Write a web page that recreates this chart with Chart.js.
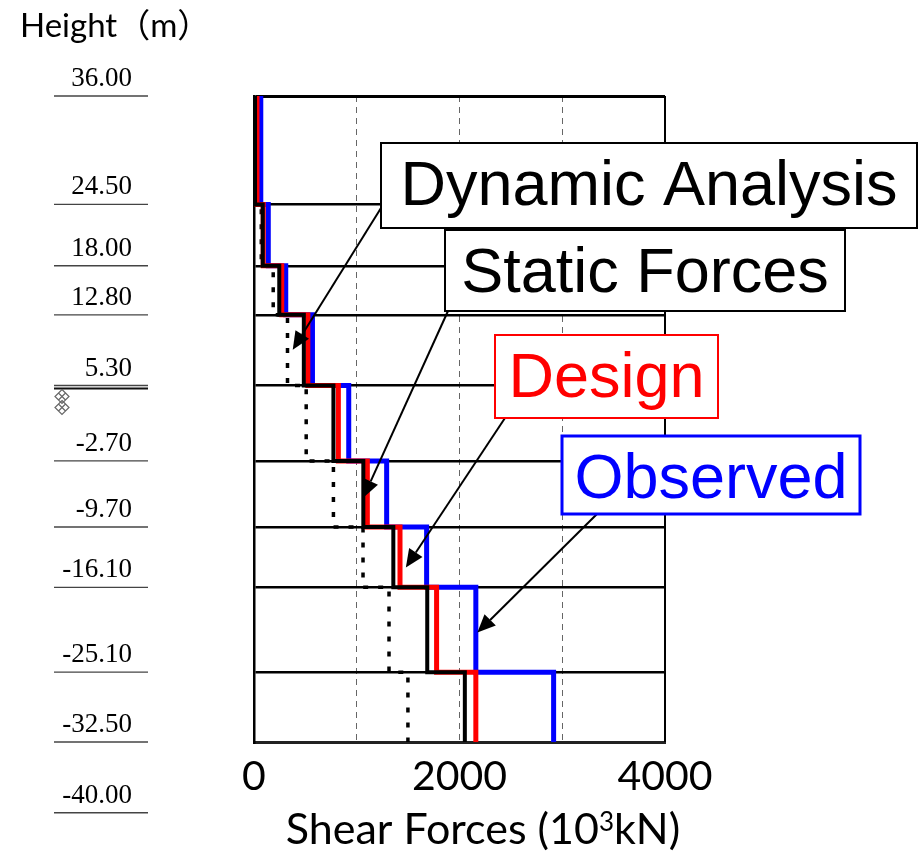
<!DOCTYPE html>
<html lang="en">
<head>
  <meta charset="UTF-8">
  <title>Shear Forces vs Height</title>
  <script src="https://cdn.jsdelivr.net/npm/chart.js"></script>
  <style>
    body { margin: 0; background: #fff; }
    #wrap { width: 920px; height: 854px; }
  </style>
</head>
<body>
  <div id="wrap"><canvas id="myChart" width="920" height="854"></canvas></div>

  <script>
    // floor levels (m) shown on the left, top to bottom
    const heightTicks = [36.00, 24.50, 18.00, 12.80, 5.30, -2.70, -9.70, -16.10, -25.10, -32.50, -40.00];
    const heightTickLabels = ['36.00', '24.50', '18.00', '12.80', '5.30', '-2.70', '-9.70', '-16.10', '-25.10', '-32.50', '-40.00'];
    // story boundaries drawn inside the plot
    const storyLevels = [36.00, 24.50, 18.00, 12.80, 5.30, -2.70, -9.70, -16.10, -25.10, -32.50];
    const groundLevel = 5.30;

    // shear force per story (10^3 kN), top story first
    const dynamicAnalysis = [5, 71, 187, 326, 508, 773, 1061, 1314, 1498];
    const staticForces   = [10, 85, 246, 485, 773, 1064, 1356, 1686, 2052];
    const design         = [29, 90, 270, 524, 821, 1103, 1421, 1777, 2159];
    const observed       = [66, 139, 309, 569, 922, 1291, 1680, 2159, 2916];

    const xTicks = [0, 1000, 2000, 3000, 4000];
    const xTickLabels = ['0', '', '2000', '', '4000'];

    // turn per-story values into a step outline
    function stepPoints(values) {
      const pts = [];
      values.forEach((v, i) => {
        pts.push({ x: v, y: storyLevels[i] });
        pts.push({ x: v, y: storyLevels[i + 1] });
      });
      return pts;
    }

    // callout boxes: box in page pixels, arrow tip in data units
    const callouts = [
      { text: 'Dynamic Analysis', color: '#000', border: 2, box: [381, 143, 536, 85], from: [381, 208], tip: { x: 377, y: 9.1 } },
      { text: 'Static Forces', color: '#000', border: 2, box: [445, 230, 400, 81], from: [448, 311], tip: { x: 1063, y: -6.6 } },
      { text: 'Design', color: '#ff0000', border: 2, box: [495, 335, 223, 83], from: [505, 418], tip: { x: 1478, y: -14.0 } },
      { text: 'Observed', color: '#0000ff', border: 3, box: [562, 436, 298, 78], from: [597, 514], tip: { x: 2174, y: -20.9 } }
    ];

    function arrow(ctx, x1, y1, x2, y2) {
      const ang = Math.atan2(y2 - y1, x2 - x1);
      const len = 18, hw = 8;
      const bx = x2 - len * Math.cos(ang), by = y2 - len * Math.sin(ang);
      ctx.beginPath();
      ctx.moveTo(x1, y1);
      ctx.lineTo(bx, by);
      ctx.lineWidth = 2;
      ctx.strokeStyle = '#000';
      ctx.stroke();
      ctx.beginPath();
      ctx.moveTo(x2, y2);
      ctx.lineTo(bx + hw * Math.sin(ang), by - hw * Math.cos(ang));
      ctx.lineTo(bx - hw * Math.sin(ang), by + hw * Math.cos(ang));
      ctx.closePath();
      ctx.fillStyle = '#000';
      ctx.fill();
    }

    const decorations = {
      id: 'decorations',
      afterDraw(chart) {
        const ctx = chart.ctx;
        const ys = chart.scales.y, xs = chart.scales.x;
        const area = chart.chartArea;
        ctx.save();

        // right frame
        ctx.strokeStyle = '#000';
        ctx.lineWidth = 2;
        ctx.beginPath();
        ctx.moveTo(area.right, area.top);
        ctx.lineTo(area.right, area.bottom);
        ctx.stroke();

        // height labels on the left
        ctx.font = '27px "Liberation Serif", "Times New Roman", serif';
        ctx.textAlign = 'right';
        ctx.textBaseline = 'alphabetic';
        heightTicks.forEach((h, i) => {
          const py = ys.getPixelForValue(h);
          ctx.fillStyle = '#000';
          ctx.fillText(heightTickLabels[i], 132, py - 10);
          ctx.strokeStyle = '#444';
          ctx.lineWidth = 1.3;
          ctx.beginPath();
          ctx.moveTo(54, py);
          ctx.lineTo(148, py);
          ctx.stroke();
          if (h === groundLevel) {
            ctx.lineWidth = 2;
            ctx.strokeStyle = '#111';
            ctx.beginPath();
            ctx.moveTo(54, py + 3);
            ctx.lineTo(148, py + 3);
            ctx.stroke();
            // small hatched ground mark
            ctx.strokeStyle = '#666';
            ctx.lineWidth = 1.2;
            [py + 11, py + 22].forEach(cy => {
              const cx = 62, r = 7;
              ctx.beginPath();
              ctx.moveTo(cx, cy - r); ctx.lineTo(cx + r, cy);
              ctx.lineTo(cx, cy + r); ctx.lineTo(cx - r, cy);
              ctx.closePath();
              ctx.moveTo(cx - r / 2, cy - r / 2); ctx.lineTo(cx + r / 2, cy + r / 2);
              ctx.moveTo(cx + r / 2, cy - r / 2); ctx.lineTo(cx - r / 2, cy + r / 2);
              ctx.stroke();
            });
          }
        });

        // y title
        ctx.fillStyle = '#000';
        ctx.textAlign = 'left';
        ctx.font = '33px Lato, "Noto Sans CJK JP", sans-serif';
        ctx.fillText('Height（m）', 20, 37);

        // x title with superscript
        const base = '43px Lato, sans-serif', sup = '26px Lato, sans-serif';
        const parts = [['Shear Forces (10', base, 0], ['3', sup, -13], ['kN)', base, 0]];
        let total = 0;
        parts.forEach(p => { ctx.font = p[1]; total += ctx.measureText(p[0]).width; });
        let tx = 483 - total / 2;
        parts.forEach(p => {
          ctx.font = p[1];
          ctx.fillText(p[0], tx, 844 + p[2]);
          tx += ctx.measureText(p[0]).width;
        });

        // callouts
        callouts.forEach(c => {
          const tx2 = xs.getPixelForValue(c.tip.x), ty2 = ys.getPixelForValue(c.tip.y);
          arrow(ctx, c.from[0], c.from[1], tx2, ty2);
        });
        callouts.forEach(c => {
          const [bx, by, bw, bh] = c.box;
          ctx.fillStyle = '#fff';
          ctx.fillRect(bx, by, bw, bh);
          ctx.strokeStyle = c.color;
          ctx.lineWidth = c.border;
          ctx.strokeRect(bx, by, bw, bh);
          ctx.fillStyle = c.color;
          ctx.font = '63px "Liberation Sans", Arial, sans-serif';
          ctx.textAlign = 'center';
          ctx.fillText(c.text, bx + bw / 2, by + 62);
        });
        ctx.restore();
      }
    };

    const ctx = document.getElementById('myChart').getContext('2d');
    const myChart = new Chart(ctx, {
      type: 'scatter',
      data: {
        datasets: [
          { label: 'Static Forces', data: stepPoints(staticForces), borderColor: '#000', borderWidth: 4 },
          { label: 'Design', data: stepPoints(design), borderColor: '#ff0000', borderWidth: 5 },
          { label: 'Observed', data: stepPoints(observed), borderColor: '#0000ff', borderWidth: 5 },
          { label: 'Dynamic Analysis', data: stepPoints(dynamicAnalysis), borderColor: '#000', borderWidth: 3.5, borderDash: [5, 10] }
        ].map(d => Object.assign(d, { showLine: true, pointRadius: 0, fill: false, tension: 0 }))
      },
      options: {
        responsive: false,
        animation: false,
        layout: { autoPadding: false, padding: { left: 254, right: 255, top: 96, bottom: 0 } },
        plugins: { legend: { display: false }, tooltip: { enabled: false } },
        scales: {
          x: {
            type: 'linear',
            position: 'bottom',
            min: 0,
            max: 4000,
            afterFit: s => { s.height = 112; },
            afterBuildTicks: s => { s.ticks = xTicks.map(v => ({ value: v })); },
            ticks: {
              padding: 10,
              maxRotation: 0,
              autoSkip: false,
              color: '#000',
              font: { family: 'Lato', size: 41 },
              callback: (v) => xTickLabels[xTicks.indexOf(v)]
            },
            grid: {
              drawTicks: false,
              color: c => (c.tick && (c.tick.value === 0 || c.tick.value === 4000)) ? 'rgba(0,0,0,0)' : '#666',
              lineWidth: 1
            },
            border: { display: true, color: '#222', width: 3, dash: [6, 5] }
          },
          y: {
            type: 'linear',
            min: -32.5,
            max: 36,
            afterFit: s => { s.width = 0; },
            afterBuildTicks: s => { s.ticks = storyLevels.map(v => ({ value: v })); },
            ticks: { display: false },
            grid: {
              drawTicks: false,
              color: '#000',
              lineWidth: c => (c.tick && c.tick.value === 36) ? 3 : 2.5
            },
            border: { display: true, color: '#000', width: 2.5 }
          }
        }
      },
      plugins: [decorations]
    });
  </script>
</body>
</html>
